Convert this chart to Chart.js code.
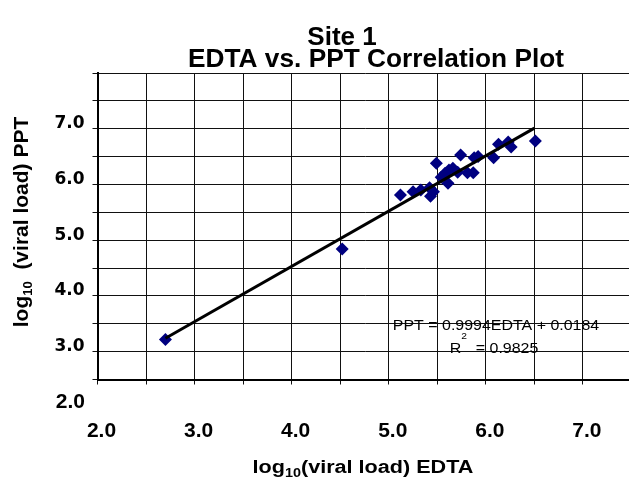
<!DOCTYPE html>
<html lang="en">
<head>
  <meta charset="UTF-8">
  <title>Site 1 EDTA vs. PPT Correlation Plot</title>
  <script src="https://cdn.jsdelivr.net/npm/chart.js"></script>
  <style>
    html, body { margin: 0; padding: 0; background: #fff; overflow: hidden; }
    #wrap { width: 629px; height: 480px; overflow: hidden; position: relative; }
    canvas { display: block; }
  </style>
</head>
<body>
  <div id="wrap"><canvas id="chart" width="638" height="480"></canvas></div>

  <script>
    // log10 viral load, one point per sample
    const edta = [2.70, 4.52, 5.12, 5.25, 5.33, 5.42, 5.43, 5.46, 5.49, 5.54, 5.58, 5.61,
                  5.62, 5.66, 5.71, 5.74, 5.81, 5.87, 5.88, 5.92, 6.08, 6.13, 6.23, 6.26, 6.51];
    const ppt  = [3.22, 4.84, 5.81, 5.87, 5.90, 5.94, 5.79, 5.87, 6.38, 6.13, 6.20, 6.02,
                  6.26, 6.29, 6.22, 6.53, 6.21, 6.21, 6.48, 6.50, 6.48, 6.72, 6.76, 6.67, 6.78];

    // fitted line as drawn (ends)
    const trendEdta = [2.70, 6.50];
    const trendPpt  = [3.24, 7.01];

    const xTickLabels = ['2.0', '3.0', '4.0', '5.0', '6.0', '7.0'];
    const yTickLabels = ['2.0', '3.0', '4.0', '5.0', '6.0', '7.0'];

    const titleLines = ['Site 1', 'EDTA vs. PPT Correlation Plot'];
    const equation = 'PPT = 0.9994EDTA + 0.0184';
    const rSquared = '0.9825';

    const FONT = '"Liberation Sans", Arial, Helvetica, sans-serif';

    // draws a row of text pieces centred on x, pieces = [text, font, dy]
    function drawRuns(ctx, pieces, x, y, sx) {
      let w = 0;
      pieces.forEach(p => { ctx.font = p[1]; w += ctx.measureText(p[0]).width; });
      ctx.save();
      ctx.translate(x, y);
      ctx.scale(sx, 1);
      ctx.textAlign = 'left';
      ctx.textBaseline = 'alphabetic';
      let cx = -w / 2;
      pieces.forEach(p => {
        ctx.font = p[1];
        ctx.fillText(p[0], cx, p[2]);
        cx += ctx.measureText(p[0]).width;
      });
      ctx.restore();
    }

    const textPlugin = {
      id: 'texts',
      afterDraw(chart) {
        const ctx = chart.ctx;
        const ys = chart.scales.y;
        ctx.save();
        ctx.fillStyle = '#000';

        // title
        drawRuns(ctx, [[titleLines[0], 'bold 26px ' + FONT, 0]], 342, 45, 1);
        drawRuns(ctx, [[titleLines[1], 'bold 26px ' + FONT, 0]], 376, 67, 1.01);

        // y labels that fall below the plotted range
        yTickLabels.forEach(s => {
          const v = parseFloat(s);
          if (v < ys.min) {
            ctx.font = 'bold 21px ' + FONT;
            ctx.textAlign = 'right';
            ctx.textBaseline = 'middle';
            ctx.fillText(s, 85, ys.getPixelForValue(v) - 5);
          }
        });

        // axis titles
        drawRuns(ctx, [
          ['log', 'bold 18px ' + FONT, 0],
          ['10', 'bold 12px ' + FONT, 4],
          ['(viral load) EDTA', 'bold 18px ' + FONT, 0]
        ], 363, 473, 1.2);

        ctx.save();
        ctx.translate(28, 222);
        ctx.rotate(-Math.PI / 2);
        drawRuns(ctx, [
          ['log', 'bold 21px ' + FONT, 0],
          ['10', 'bold 13px ' + FONT, 4],
          ['  (viral load) PPT', 'bold 21px ' + FONT, 0]
        ], 0, 0, 1);
        ctx.restore();

        // regression text
        drawRuns(ctx, [[equation, '14px ' + FONT, 0]], 496, 330, 1.14);
        drawRuns(ctx, [
          ['R', '14px ' + FONT, 0],
          ['2', '9px ' + FONT, -14],
          ['  = ' + rSquared, '14px ' + FONT, 0]
        ], 494, 353, 1.14);

        ctx.restore();
      }
    };

    function tickText(labels) {
      return v => {
        const s = Number(v).toFixed(1);
        return labels.includes(s) ? s : '';
      };
    }

    new Chart(document.getElementById('chart').getContext('2d'), {
      type: 'scatter',
      data: {
        datasets: [
          {
            label: 'Linear fit',
            data: trendEdta.map((x, i) => ({ x: x, y: trendPpt[i] })),
            showLine: true,
            borderColor: '#000',
            borderWidth: 3,
            pointRadius: 0,
            fill: false
          },
          {
            label: 'Samples',
            data: edta.map((x, i) => ({ x: x, y: ppt[i] })),
            pointStyle: 'rectRot',
            pointRadius: 6.5,
            backgroundColor: '#000080',
            borderColor: '#000080',
            borderWidth: 0
          }
        ]
      },
      options: {
        responsive: false,
        animation: false,
        devicePixelRatio: 1,
        layout: { padding: { top: 73, right: 0, bottom: 0, left: 0 } },
        plugins: {
          legend: { display: false },
          title: { display: false },
          tooltip: { enabled: false }
        },
        scales: {
          x: {
            type: 'linear',
            min: 2,
            max: 7.5,
            afterFit: s => { s.height = 100.5; s.paddingLeft = 0; s.paddingRight = 0; },
            ticks: {
              stepSize: 0.5,
              autoSkip: false,
              maxRotation: 0,
              padding: 34,
              labelOffset: 4,
              color: '#000',
              font: { family: FONT, size: 21, weight: 'bold' },
              callback: tickText(xTickLabels)
            },
            grid: { color: '#111', lineWidth: 1, tickLength: 5 },
            border: { color: '#000', width: 2 }
          },
          y: {
            type: 'linear',
            min: 2.5,
            max: 8,
            afterFit: s => { s.width = 97.5; s.paddingTop = 0; s.paddingBottom = 0; },
            ticks: {
              stepSize: 0.5,
              autoSkip: false,
              padding: 8,
              labelOffset: -5,
              color: '#000',
              font: { family: '"DejaVu Sans", sans-serif', size: 17, weight: 'bold' },
              callback: tickText(yTickLabels)
            },
            grid: { color: '#111', lineWidth: 1, tickLength: 5 },
            border: { color: '#000', width: 2 }
          }
        }
      },
      plugins: [textPlugin]
    });
  </script>
</body>
</html>
